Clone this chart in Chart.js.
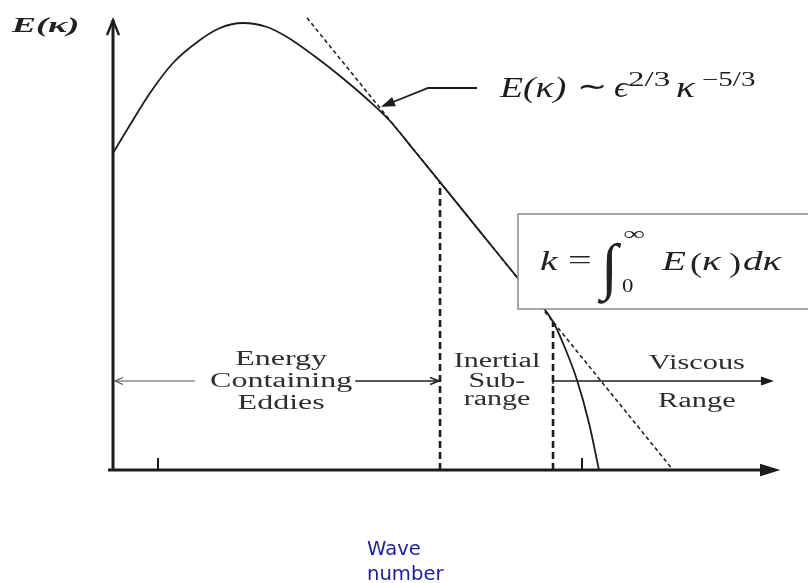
<!DOCTYPE html>
<html>
<head>
<meta charset="utf-8">
<title>Energy spectrum</title>
<script src="https://cdn.jsdelivr.net/npm/chart.js@4.4.1/dist/chart.umd.min.js"></script>
<style>
  html, body { margin: 0; padding: 0; background: #ffffff; }
  #wrap { width: 808px; height: 583px; position: relative; }
</style>
</head>
<body>
<div id="wrap"><canvas id="spectrum"></canvas></div>
<script>
// Turbulent kinetic energy spectrum E(kappa) against wave number (arbitrary units)
const kappa  = [0, 3.02, 5.59, 9.06, 13.14, 16.16, 19.64, 23.26, 26.28, 30.21, 34.29, 38.37, 41.84, 45.32, 49.4, 55.44, 61.03, 66.47, 68.28, 70.09, 71.9, 73.41];
const energy = [68.9, 76.1, 81.96, 88.48, 93.48, 96.09, 97.17, 96.3, 94.13, 90.22, 85.65, 80.65, 75.87, 69.78, 62.57, 51.83, 41.89, 32.22, 26.52, 19.57, 10.22, 0];

// Kolmogorov -5/3 reference line (end points)
const fitKappa  = [29.3, 84.6];
const fitEnergy = [98.3, 0];

// Boundaries between the ranges and the spectrum level where they stop
const rangeBounds = [49.4, 66.47];
const boundTops   = [62.57, 32.22];

// Small marks on the wave-number axis
const axisTicks = [6.8, 70.85];

const rangeNames = {
  energy:   ['Energy', 'Containing', 'Eddies'],
  inertial: ['Inertial', 'Sub-', 'range'],
  viscous:  ['Viscous', 'Range']
};
const yTitle = 'E(κ)';
const xTitle = ['Wave', 'number'];

const toPts = (xs, ys) => xs.map((x, i) => ({ x: x, y: ys[i] }));

const INK = '#1c1c1c';
const SERIF = '"Liberation Serif", "Times New Roman", serif';

// text drawn with a horizontal stretch
function stretchText(ctx, s, x, y, font, sx, align, color) {
  ctx.save();
  ctx.font = font;
  ctx.fillStyle = color || INK;
  ctx.textBaseline = 'alphabetic';
  const w = ctx.measureText(s).width * sx;
  let x0 = x;
  if (align === 'center') x0 = x - w / 2;
  else if (align === 'right') x0 = x - w;
  ctx.translate(x0, y);
  ctx.scale(sx, 1);
  ctx.textAlign = 'left';
  ctx.fillText(s, 0, 0);
  ctx.restore();
  return w;
}

function line(ctx, x1, y1, x2, y2, w, color, dash) {
  ctx.save();
  ctx.beginPath();
  ctx.strokeStyle = color || INK;
  ctx.lineWidth = w;
  ctx.setLineDash(dash || []);
  ctx.moveTo(x1, y1);
  ctx.lineTo(x2, y2);
  ctx.stroke();
  ctx.restore();
}

// chevron (or filled) head at (x, y) pointing along angle a
function head(ctx, x, y, a, len, half, w, color, filled) {
  const bx = x - Math.cos(a) * len, by = y - Math.sin(a) * len;
  const px = -Math.sin(a) * half, py = Math.cos(a) * half;
  ctx.save();
  ctx.strokeStyle = color || INK;
  ctx.fillStyle = color || INK;
  ctx.lineWidth = w;
  ctx.setLineDash([]);
  ctx.beginPath();
  ctx.moveTo(bx + px, by + py);
  ctx.lineTo(x, y);
  ctx.lineTo(bx - px, by - py);
  if (filled) { ctx.closePath(); ctx.fill(); }
  ctx.stroke();
  ctx.restore();
}

const decorations = {
  id: 'decorations',
  afterDatasetsDraw(chart) {
    const ctx = chart.ctx;
    const X = v => chart.scales.x.getPixelForValue(v);
    const Y = v => chart.scales.y.getPixelForValue(v);

    // axes with arrow heads
    line(ctx, X(0) - 5, Y(0), X(100), Y(0), 3, INK);
    head(ctx, X(100) + 2, Y(0), 0, 16, 5, 2, INK, true);
    line(ctx, X(0), Y(0) + 1, X(0), Y(97.8), 3, INK);
    head(ctx, X(0), Y(97.8), -Math.PI / 2, 15, 6, 2.4, INK, false);

    axisTicks.forEach(t => line(ctx, X(t), Y(0), X(t), Y(0) - 12, 2, INK));

    // y title
    stretchText(ctx, yTitle, X(-15.3), Y(95.3), 'italic bold 22px ' + SERIF, 1.65, 'left', '#222');

    // range arrows
    const ay = Y(19.35);
    line(ctx, X(0) + 2, ay, X(12.4), ay, 1.2, '#555');
    head(ctx, X(0) + 2, ay, Math.PI, 8, 3.5, 1.2, '#555', false);
    line(ctx, X(36.6), ay, X(rangeBounds[0]) - 1, ay, 1.6, INK);
    head(ctx, X(rangeBounds[0]) - 1, ay, 0, 9, 3.5, 1.4, INK, false);
    line(ctx, X(rangeBounds[1]), ay, X(99.5), ay, 1.6, INK);
    line(ctx, X(rangeBounds[1]), ay, X(rangeBounds[1]), ay + 3, 1.4, INK);
    head(ctx, X(99.5), ay, 0, 10, 3.5, 1.5, INK, true);

    // range names
    const rf = '20px ' + SERIF;
    const rc = '#2e2e2e';
    [24.35, 19.57, 14.78].forEach((v, i) =>
      stretchText(ctx, rangeNames.energy[i], X(25.4), Y(v) + 7, rf, 1.6, 'center', rc));
    [23.91, 19.57, 15.65].forEach((v, i) =>
      stretchText(ctx, rangeNames.inertial[i], X(58.0), Y(v) + 7, rf, 1.5, 'center', rc));
    [23.48, 15.22].forEach((v, i) =>
      stretchText(ctx, rangeNames.viscous[i], X(88.2), Y(v) + 7, rf, 1.52, 'center', rc));

    // leader to the -5/3 line
    ctx.save();
    ctx.strokeStyle = INK; ctx.lineWidth = 1.8;
    ctx.beginPath();
    ctx.moveTo(X(55.0), Y(83.04));
    ctx.lineTo(X(47.6), Y(83.04));
    ctx.lineTo(X(40.8), Y(79.13));
    ctx.stroke();
    ctx.restore();
    const la = Math.atan2(Y(79.13) - Y(83.04), X(40.8) - X(47.6));
    head(ctx, X(40.8), Y(79.13), la, 11, 4, 1.5, INK, true);

    // E(kappa) ~ eps^(2/3) kappa^(-5/3)
    const mf = 'italic 29px ' + SERIF, sf = '20px ' + SERIF, uf = '29px ' + SERIF;
    const fx = X(58.46), by = Y(81.09);
    stretchText(ctx, 'E(κ)', fx, by, mf, 1.3, 'left');
    stretchText(ctx, '∼', fx + 77, by - 1, uf, 1.25, 'left');
    stretchText(ctx, 'ϵ', fx + 114, by, mf, 1.2, 'left');
    stretchText(ctx, '2/3', fx + 128, by - 11, sf, 1.65, 'left');
    stretchText(ctx, 'κ', fx + 176, by, mf, 1.35, 'left');
    stretchText(ctx, '−5/3', fx + 202, by - 11, sf, 1.45, 'left');

    // definition box
    const bx0 = X(61.18), by0 = Y(55.65), by1 = Y(35.0);
    ctx.save();
    ctx.fillStyle = '#ffffff';
    ctx.fillRect(bx0, by0, chart.width - bx0 + 20, by1 - by0);
    ctx.strokeStyle = '#8a8a8a';
    ctx.lineWidth = 1.5;
    ctx.strokeRect(bx0, by0, chart.width - bx0 + 20, by1 - by0);
    ctx.restore();

    const kb = Y(43.48), kx = X(64.5);
    const kf = 'italic 28px ' + SERIF, kc = '#222';
    stretchText(ctx, 'k', kx, kb, kf, 1.4, 'left', kc);
    stretchText(ctx, '=', kx + 28, kb - 1, '28px ' + SERIF, 1.5, 'left', kc);
    stretchText(ctx, '∫', kx + 61, kb + 17, 'italic 62px ' + SERIF, 1.0, 'left', kc);
    stretchText(ctx, '∞', kx + 83, kb - 30, '19px ' + SERIF, 1.6, 'left', kc);
    stretchText(ctx, '0', kx + 82, kb + 22, '19px ' + SERIF, 1.2, 'left', kc);
    stretchText(ctx, 'E', kx + 122, kb, kf, 1.4, 'left', kc);
    stretchText(ctx, '(', kx + 150, kb + 2, '28px ' + SERIF, 1.3, 'left', kc);
    stretchText(ctx, 'κ', kx + 162, kb, kf, 1.4, 'left', kc);
    stretchText(ctx, ')', kx + 189, kb + 2, '28px ' + SERIF, 1.3, 'left', kc);
    stretchText(ctx, 'dκ', kx + 203, kb, kf, 1.4, 'left', kc);

    // x title
    const xf = '20px "DejaVu Sans", Verdana, sans-serif';
    stretchText(ctx, xTitle[0], X(38.37), Y(-18.48), xf, 0.98, 'left', '#1f1f96');
    stretchText(ctx, xTitle[1], X(38.37), Y(-23.91), xf, 0.98, 'left', '#1f1f96');
  }
};

new Chart(document.getElementById('spectrum'), {
  type: 'line',
  data: {
    datasets: [
      {
        label: 'E(κ)',
        data: toPts(kappa, energy),
        borderColor: INK,
        borderWidth: 1.8,
        pointRadius: 0,
        cubicInterpolationMode: 'monotone',
        clip: false
      },
      {
        label: 'κ^-5/3',
        data: toPts(fitKappa, fitEnergy),
        borderColor: '#222',
        borderWidth: 1.6,
        borderDash: [4, 3],
        pointRadius: 0,
        clip: false
      },
      ...rangeBounds.map((b, i) => ({
        label: 'bound ' + (i + 1),
        data: toPts([b, b], [0, boundTops[i]]),
        borderColor: INK,
        borderWidth: 2.6,
        borderDash: [7, 4],
        pointRadius: 0,
        clip: false
      }))
    ]
  },
  options: {
    responsive: true,
    maintainAspectRatio: false,
    animation: false,
    layout: { padding: { left: 113, right: 33, top: 10, bottom: 113 } },
    scales: {
      x: { type: 'linear', min: 0, max: 100, display: false },
      y: { type: 'linear', min: 0, max: 100, display: false }
    },
    plugins: {
      legend: { display: false },
      tooltip: { enabled: false }
    }
  },
  plugins: [decorations]
});
</script>
</body>
</html>
